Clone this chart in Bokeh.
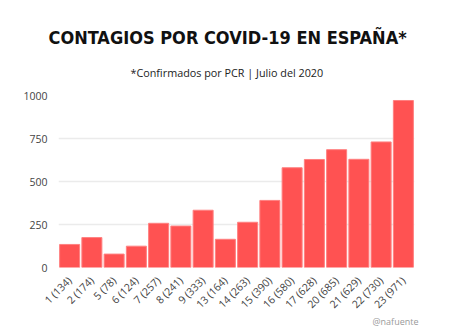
import math
from bokeh.plotting import figure
from bokeh.models import Title, FactorRange, Range1d, FixedTicker
from bokeh.embed import file_html
from bokeh.resources import INLINE

days = ["1", "2", "5", "6", "7", "8", "9", "13", "14", "15", "16", "17", "20", "21", "22", "23"]
cases = [134, 174, 78, 124, 257, 241, 333, 164, 263, 390, 580, 628, 685, 629, 730, 971]
labels = [f"{d} ({c})" for d, c in zip(days, cases)]
y_ticks = [0, 250, 500, 750, 1000]

p = figure(x_range=FactorRange(*labels), y_range=Range1d(0, 1000),
           width=460, height=336, output_backend="svg", toolbar_location=None,
           title=None, min_border_left=58, min_border_right=46,
           min_border_top=95, min_border_bottom=69, background_fill_color="white",
           border_fill_color="white", outline_line_color=None)

p.vbar(x=labels, top=cases, width=0.9, fill_color="#FF5252", line_color="#FF8080", line_width=1)

p.add_layout(Title(text="*Confirmados por PCR | Julio del 2020", align="left",
                   text_font="Open Sans", text_font_size="10.8px", text_font_style="normal",
                   text_color="#222222", standoff=31, offset=72), "above")
p.add_layout(Title(text="CONTAGIOS POR COVID-19 EN ESPAÑA*", align="left",
                   text_font="DejaVu Sans Condensed", text_font_size="18px", text_font_style="bold",
                   text_color="#111111", offset=-10, standoff=0), "above")

p.xgrid.grid_line_color = None
p.ygrid.grid_line_color = "#ebebeb"
p.ygrid.grid_line_width = 1.5
p.yaxis.ticker = FixedTicker(ticks=y_ticks)
for ax in (p.xaxis, p.yaxis):
    ax.axis_line_color = None
    ax.major_tick_line_color = None
    ax.minor_tick_line_color = None
    ax.major_label_text_color = "#444444"
    ax.major_label_text_font = "Open Sans"
    ax.major_label_text_font_size = "10.5px"
p.xaxis.major_label_orientation = math.pi / 4

p.add_layout(Title(text="@nafuente", align="right", text_font="Open Sans",
                   text_font_size="9px", text_font_style="normal", text_color="#999999",
                   offset=-4, standoff=-18), "below")

open("out.html", "w").write(file_html(p, INLINE))
